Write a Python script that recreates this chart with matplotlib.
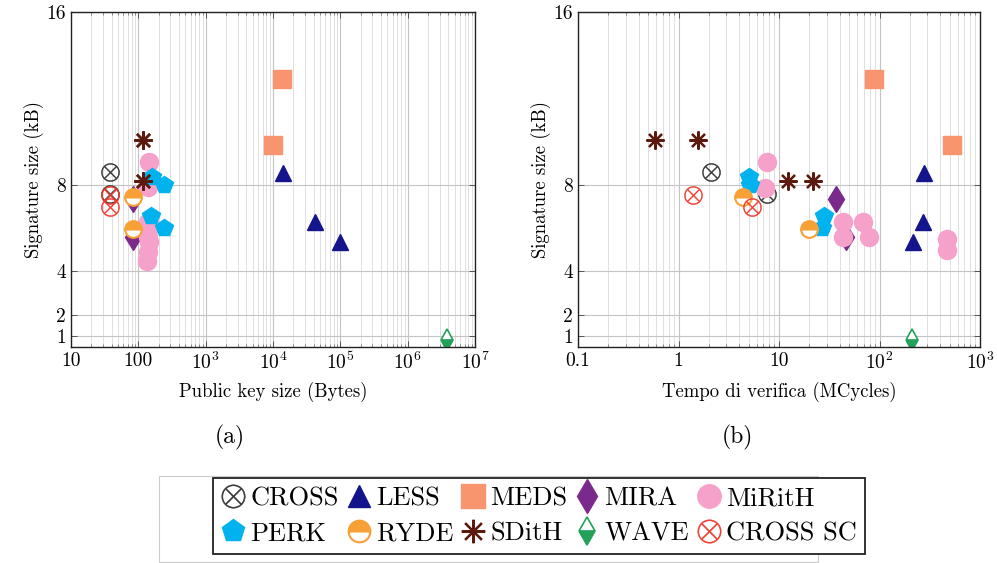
import matplotlib
matplotlib.use("Agg")
import matplotlib.pyplot as plt
from matplotlib.patches import Rectangle
from matplotlib.ticker import FixedLocator, LogLocator, NullFormatter

plt.rcParams['font.family'] = 'cmr10'
plt.rcParams['mathtext.fontset'] = 'cm'
plt.rcParams['axes.formatter.use_mathtext'] = True
plt.rcParams['axes.unicode_minus'] = False

# public key size (Bytes), verification time (MCycles), signature size (kB)
cross_pk = [38, 38]
cross_ver = [2.1, 7.6]
cross_sig = [8.6, 7.6]

less_pk = [14000, 42000, 100000]
less_ver = [275, 270, 215]
less_sig = [8.57, 6.27, 5.35]

meds_pk = [13500, 10000]
meds_ver = [88, 525]
meds_sig = [12.9, 9.86]

mira_pk = [84, 84]
mira_ver = [37, 46]
mira_sig = [7.33, 5.6]

mirith_pk = [145, 140, 140, 150, 140, 145, 140, 135]
mirith_sig_a = [9.08, 7.88, 6.3, 6.1, 5.6, 5.35, 4.9, 4.5]
mirith_ver = [7.6, 7.3, 43, 43, 68, 78, 470, 470]
mirith_sig_b = [9.08, 7.85, 6.3, 5.6, 6.3, 5.6, 5.48, 4.98]

perk_pk = [160, 240, 154, 240]
perk_ver = [5.0, 5.1, 28, 27]
perk_sig = [8.35, 8.0, 6.55, 6.0]

ryde_pk = [84, 84]
ryde_ver = [4.4, 20]
ryde_sig = [7.42, 5.94]

sdith_pk = [118, 118, 118, 118]
sdith_ver = [0.58, 1.56, 12.4, 22]
sdith_sig = [10.1, 10.1, 8.2, 8.2]

wave_pk = [3.9e6]
wave_ver = [210]
wave_sig = [0.83]

crosssc_pk = [38, 38]
crosssc_ver = [1.4, 5.4]
crosssc_sig = [7.55, 6.96]

names = ['CROSS', 'LESS', 'MEDS', 'MIRA', 'MiRitH', 'PERK', 'RYDE', 'SDitH', 'WAVE', 'CROSS SC']

y_ticks = [1, 2, 4, 8, 16]
xa_ticks = [10, 100, 1e3, 1e4, 1e5, 1e6, 1e7]
xa_labels = ['10', '100', '$10^{3}$', '$10^{4}$', '$10^{5}$', '$10^{6}$', '$10^{7}$']
xb_ticks = [0.1, 1, 10, 100, 1000]
xb_labels = ['0.1', '1', '10', '$10^{2}$', '$10^{3}$']

c_cross = '#333333'
c_less = '#14148c'
c_meds = '#f8956f'
c_mira = '#7a2a8a'
c_mirith = '#f6a1c9'
c_perk = '#00b2ee'
c_ryde = '#f7a035'
c_sdith = '#5c1a0e'
c_wave = '#23a05a'
c_crosssc = '#f03a2e'


def draw(ax, xs, sig_mirith):
    h = []
    h += ax.plot(xs[0], cross_sig, ls='none', marker='$\\otimes$', ms=13, color=c_cross, mew=0.4)
    h += ax.plot(xs[1], less_sig, ls='none', marker='^', ms=12, color=c_less)
    h += ax.plot(xs[2], meds_sig, ls='none', marker='s', ms=13, color=c_meds)
    h += ax.plot(xs[3], mira_sig, ls='none', marker='d', ms=13, color=c_mira)
    h += ax.plot(xs[4], sig_mirith, ls='none', marker='o', ms=13, color=c_mirith)
    h += ax.plot(xs[5], perk_sig, ls='none', marker='p', ms=13, color=c_perk)
    h += ax.plot(xs[6], ryde_sig, ls='none', marker='o', ms=12, fillstyle='top',
                 markerfacecolor=c_ryde, markerfacecoloralt='white',
                 markeredgecolor=c_ryde, mew=1.5)
    h += ax.plot(xs[7], sdith_sig, ls='none', marker=(8, 2, 0), ms=13, color=c_sdith, mew=1.6)
    h += ax.plot(xs[8], wave_sig, ls='none', marker='d', ms=11, fillstyle='bottom',
                 markerfacecolor=c_wave, markerfacecoloralt='white',
                 markeredgecolor=c_wave, mew=1.2)
    h += ax.plot(xs[9], crosssc_sig, ls='none', marker='$\\otimes$', ms=13, color=c_crosssc, mew=0.4)
    return h


def style(ax, ticks, labels, xlim, xlabel):
    ax.set_xscale('log')
    ax.set_xlim(*xlim)
    ax.set_ylim(0.5, 16)
    ax.xaxis.set_major_locator(FixedLocator(ticks))
    ax.set_xticklabels(labels)
    ax.xaxis.set_minor_locator(LogLocator(base=10, subs=range(2, 10), numticks=20))
    ax.xaxis.set_minor_formatter(NullFormatter())
    ax.set_yticks(y_ticks)
    ax.set_yticklabels([str(t) for t in y_ticks])
    ax.grid(True, which='major', color='#c4c4c4', lw=0.8)
    ax.grid(True, which='minor', axis='x', color='#dedede', lw=0.7)
    ax.set_axisbelow(True)
    ax.tick_params(which='both', direction='in', top=True, right=True, labelsize=14)
    ax.tick_params(which='major', length=4, width=0.6, color='#444444')
    ax.tick_params(which='minor', length=2, width=0.5, color='#666666')
    for sp in ax.spines.values():
        sp.set_linewidth(1.0)
        sp.set_color('#222222')
    ax.set_xlabel(xlabel, fontsize=13.5, labelpad=6)
    ax.set_ylabel('Signature size (kB)', fontsize=13.5, labelpad=2)


W, H = 997, 563
fig = plt.figure(figsize=(W / 100, H / 100), dpi=100)

ax1 = fig.add_axes([71 / W, 1 - 347 / H, (475 - 71) / W, (347 - 12) / H])
ax2 = fig.add_axes([578 / W, 1 - 347 / H, (980 - 578) / W, (347 - 12) / H])

handles = draw(ax1, [cross_pk, less_pk, meds_pk, mira_pk, mirith_pk, perk_pk,
                     ryde_pk, sdith_pk, wave_pk, crosssc_pk], mirith_sig_a)
draw(ax2, [cross_ver, less_ver, meds_ver, mira_ver, mirith_ver, perk_ver,
           ryde_ver, sdith_ver, wave_ver, crosssc_ver], mirith_sig_b)

style(ax1, xa_ticks, xa_labels, (10, 1e7), 'Public key size (Bytes)')
style(ax2, xb_ticks, xb_labels, (0.1, 1000), 'Tempo di verifica (MCycles)')

fig.text(230 / W, 1 - 437 / H, '(a)', ha='center', va='center', fontsize=17)
fig.text(737 / W, 1 - 437 / H, '(b)', ha='center', va='center', fontsize=17)

# faint outer frame behind the legend
fig.patches.append(Rectangle((159 / W, 1 - 562 / H), (818 - 159) / W, (562 - 476) / H,
                             transform=fig.transFigure, fill=False,
                             ec='#cccccc', lw=0.8, zorder=1))

order = [0, 5, 1, 6, 2, 7, 3, 8, 4, 9]
leg = fig.legend([handles[i] for i in order], [names[i] for i in order],
                 loc='center', bbox_to_anchor=(539 / W, 1 - 516 / H), ncol=5,
                 fontsize=19, frameon=True, fancybox=False, framealpha=1,
                 edgecolor='#222222', markerscale=1.3, handlelength=0.9,
                 handletextpad=0.2, columnspacing=0.3, labelspacing=0.45,
                 borderpad=0.3, borderaxespad=0)
leg.get_frame().set_linewidth(1.3)
leg.set_zorder(5)

fig.savefig('out.png', dpi=100)
